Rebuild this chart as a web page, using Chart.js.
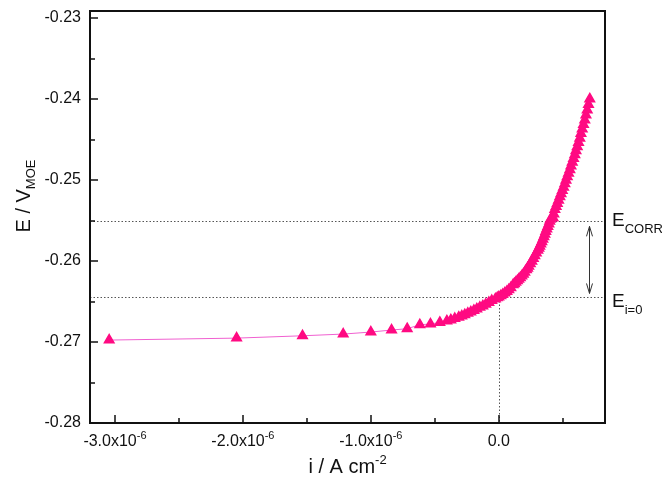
<!DOCTYPE html>
<html>
<head>
<meta charset="utf-8">
<script src="https://cdn.jsdelivr.net/npm/chart.js@4.4.1/dist/chart.umd.min.js"></script>
<style>
  html, body { margin: 0; padding: 0; background: #fff; }
</style>
</head>
<body>
<canvas id="chart" width="662" height="479"></canvas>
<script>
// current density, in units of 1e-6 A cm^-2
const currentDensity = [
  -3.045, -2.049, -1.534, -1.216, -1.000, -0.838, -0.716, -0.617, -0.534, -0.461,
  -0.406, -0.375, -0.344, -0.313, -0.289, -0.266, -0.242, -0.219, -0.195, -0.172,
  -0.148, -0.125, -0.102, -0.078, -0.055,
  -0.027, -0.012, 0.000, 0.016, 0.031, 0.047, 0.063, 0.078, 0.094, 0.112,
  0.122, 0.133, 0.145, 0.156, 0.168, 0.180, 0.192, 0.203, 0.216, 0.225,
  0.234, 0.246, 0.258, 0.270, 0.281, 0.293, 0.305, 0.313, 0.320, 0.328,
  0.336, 0.344, 0.352, 0.360, 0.367, 0.375, 0.383, 0.391, 0.398, 0.404,
  0.425, 0.430, 0.438, 0.448, 0.457, 0.467, 0.477, 0.486, 0.496, 0.506,
  0.516, 0.525, 0.535, 0.545, 0.555, 0.564, 0.574, 0.584, 0.594, 0.603,
  0.613, 0.623, 0.633, 0.642, 0.652, 0.662, 0.672, 0.681, 0.691, 0.701,
  0.711
];
// potential, V vs MOE
const potential = [
  -0.26976, -0.26952, -0.26923, -0.26902, -0.26877, -0.26852, -0.26836, -0.26787, -0.26778, -0.26759,
  -0.26740, -0.26728, -0.26710, -0.26694, -0.26679, -0.26663, -0.26645, -0.26629, -0.26610, -0.26592,
  -0.26571, -0.26555, -0.26534, -0.26511, -0.26489,
  -0.26468, -0.26455, -0.26443, -0.26428, -0.26412, -0.26394, -0.26375, -0.26354, -0.26331, -0.26294,
  -0.26280, -0.26263, -0.26245, -0.26226, -0.26206, -0.26185, -0.26163, -0.26139, -0.26108, -0.26088,
  -0.26065, -0.26035, -0.26003, -0.25970, -0.25934, -0.25900, -0.25866, -0.25843, -0.25819, -0.25790,
  -0.25761, -0.25730, -0.25699, -0.25668, -0.25637, -0.25606, -0.25574, -0.25542, -0.25509, -0.25485,
  -0.25470, -0.25420, -0.25364, -0.25327, -0.25289, -0.25249, -0.25208, -0.25168, -0.25128, -0.25088,
  -0.25047, -0.25004, -0.24960, -0.24917, -0.24873, -0.24827, -0.24780, -0.24734, -0.24687, -0.24638,
  -0.24588, -0.24536, -0.24483, -0.24427, -0.24371, -0.24315, -0.24259, -0.24197, -0.24135, -0.24067,
  -0.23999
];

const xTicks = [-3, -2, -1, 0];
const xTickLabels = ['-3.0x10', '-2.0x10', '-1.0x10', '0.0'];
const xTickExp = ['-6', '-6', '-6', ''];
const xMinorTicks = [-2.5, -1.5, -0.5, 0.5];
const yTicks = [-0.28, -0.27, -0.26, -0.25, -0.24, -0.23];
const yMinorTicks = [-0.275, -0.265, -0.255, -0.245, -0.235];

const eCorr = -0.2551;
const eZero = -0.2645;
const arrowAt = 0.703;

const FONT = "'Liberation Sans', Arial, sans-serif";
const INK = '#111';

// draw runs of text with sub/superscripts; parts = [{t, size, dy}]
function richText(ctx, parts, x, y, align){
  let w = 0;
  parts.forEach(p => { ctx.font = p.size + 'px ' + FONT; p.w = ctx.measureText(p.t).width; w += p.w; });
  let cx = align === 'center' ? x - w / 2 : x;
  ctx.textAlign = 'left';
  ctx.textBaseline = 'alphabetic';
  parts.forEach(p => {
    ctx.font = p.size + 'px ' + FONT;
    ctx.fillText(p.t, cx, y + (p.dy || 0));
    cx += p.w;
  });
}

const decor = {
  id: 'decor',
  beforeDatasetsDraw(chart){
    const {ctx, chartArea: a, scales: {x, y}} = chart;
    ctx.save();
    ctx.strokeStyle = '#555';
    ctx.lineWidth = 1;
    ctx.setLineDash([1.5, 2]);
    const yc = Math.round(y.getPixelForValue(eCorr)) + 0.5;
    const y0 = Math.round(y.getPixelForValue(eZero)) + 0.5;
    const x0 = Math.round(x.getPixelForValue(0)) + 0.5;
    ctx.beginPath();
    ctx.moveTo(a.left, yc); ctx.lineTo(a.right, yc);
    ctx.moveTo(a.left, y0); ctx.lineTo(a.right, y0);
    ctx.moveTo(x0, y0); ctx.lineTo(x0, a.bottom);
    ctx.stroke();
    ctx.setLineDash([]);

    // double headed arrow between the two potentials
    const ax = Math.round(x.getPixelForValue(arrowAt)) + 0.5;
    const t = y.getPixelForValue(eCorr) + 5;
    const b = y.getPixelForValue(eZero) - 4;
    ctx.strokeStyle = '#333';
    ctx.beginPath();
    ctx.moveTo(ax, t); ctx.lineTo(ax, b);
    ctx.moveTo(ax - 3, t + 10); ctx.lineTo(ax, t); ctx.lineTo(ax + 3, t + 10);
    ctx.moveTo(ax - 3, b - 10); ctx.lineTo(ax, b); ctx.lineTo(ax + 3, b - 10);
    ctx.stroke();
    ctx.restore();
  },
  afterDraw(chart){
    const {ctx, chartArea: a, scales: {x, y}} = chart;
    ctx.save();
    // frame
    ctx.strokeStyle = INK;
    ctx.lineWidth = 2;
    ctx.strokeRect(a.left, a.top, a.right - a.left, a.bottom - a.top);

    // inward tick marks
    ctx.lineWidth = 1.5;
    ctx.beginPath();
    xTicks.forEach(v => { const px = Math.round(x.getPixelForValue(v)); ctx.moveTo(px, a.bottom); ctx.lineTo(px, a.bottom - 8); });
    xMinorTicks.forEach(v => { const px = Math.round(x.getPixelForValue(v)); ctx.moveTo(px, a.bottom); ctx.lineTo(px, a.bottom - 5); });
    yTicks.forEach(v => { const py = Math.round(y.getPixelForValue(v)); ctx.moveTo(a.left, py); ctx.lineTo(a.left + 8, py); });
    yMinorTicks.forEach(v => { const py = Math.round(y.getPixelForValue(v)); ctx.moveTo(a.left, py); ctx.lineTo(a.left + 5, py); });
    ctx.stroke();

    ctx.fillStyle = INK;
    // x tick labels with exponent
    xTicks.forEach((v, i) => {
      const parts = [{t: xTickLabels[i], size: 16}];
      if (xTickExp[i]) parts.push({t: xTickExp[i], size: 11, dy: -7});
      richText(ctx, parts, x.getPixelForValue(v), a.bottom + 23, 'center');
    });

    // axis titles
    richText(ctx, [{t: 'i / A cm', size: 20}, {t: '-2', size: 13, dy: -9}], (a.left + a.right) / 2, 473, 'center');
    ctx.save();
    ctx.translate(30, 196);
    ctx.rotate(-Math.PI / 2);
    richText(ctx, [{t: 'E / V', size: 20}, {t: 'MOE', size: 13, dy: 5}], 0, 0, 'center');
    ctx.restore();

    // annotations at the right
    richText(ctx, [{t: 'E', size: 19}, {t: 'CORR', size: 13, dy: 7}], a.right + 7, 226, 'left');
    richText(ctx, [{t: 'E', size: 19}, {t: 'i=0', size: 13, dy: 7}], a.right + 7, 307, 'left');
    ctx.restore();
  }
};

const points = currentDensity.map((v, i) => ({x: v, y: potential[i]}));

new Chart(document.getElementById('chart'), {
  type: 'scatter',
  data: {
    datasets: [{
      data: points,
      showLine: true,
      borderColor: '#f060d0',
      borderWidth: 1,
      pointStyle: 'triangle',
      pointRadius: 5.5,
      pointBackgroundColor: '#ff0a82',
      pointBorderColor: '#ff0a82',
      pointBorderWidth: 1.5
    }]
  },
  options: {
    responsive: false,
    animation: false,
    devicePixelRatio: 1,
    layout: { padding: { left: 0, top: 11, right: 57, bottom: 0 } },
    plugins: { legend: { display: false }, tooltip: { enabled: false } },
    scales: {
      x: {
        type: 'linear',
        min: -3.195,
        max: 0.83,
        grid: { display: false },
        border: { display: false },
        ticks: { display: false },
        afterBuildTicks: s => { s.ticks = xTicks.map(v => ({value: v})); },
        afterFit: s => { s.height = 56; }
      },
      y: {
        min: -0.28,
        max: -0.22913,
        grid: { display: false },
        border: { display: false },
        ticks: {
          padding: 1,
          color: INK,
          font: { family: FONT, size: 16 },
          callback: v => v.toFixed(2)
        },
        afterBuildTicks: s => { s.ticks = yTicks.map(v => ({value: v})); },
        afterFit: s => { s.width = 90; }
      }
    }
  },
  plugins: [decor]
});
</script>
</body>
</html>
